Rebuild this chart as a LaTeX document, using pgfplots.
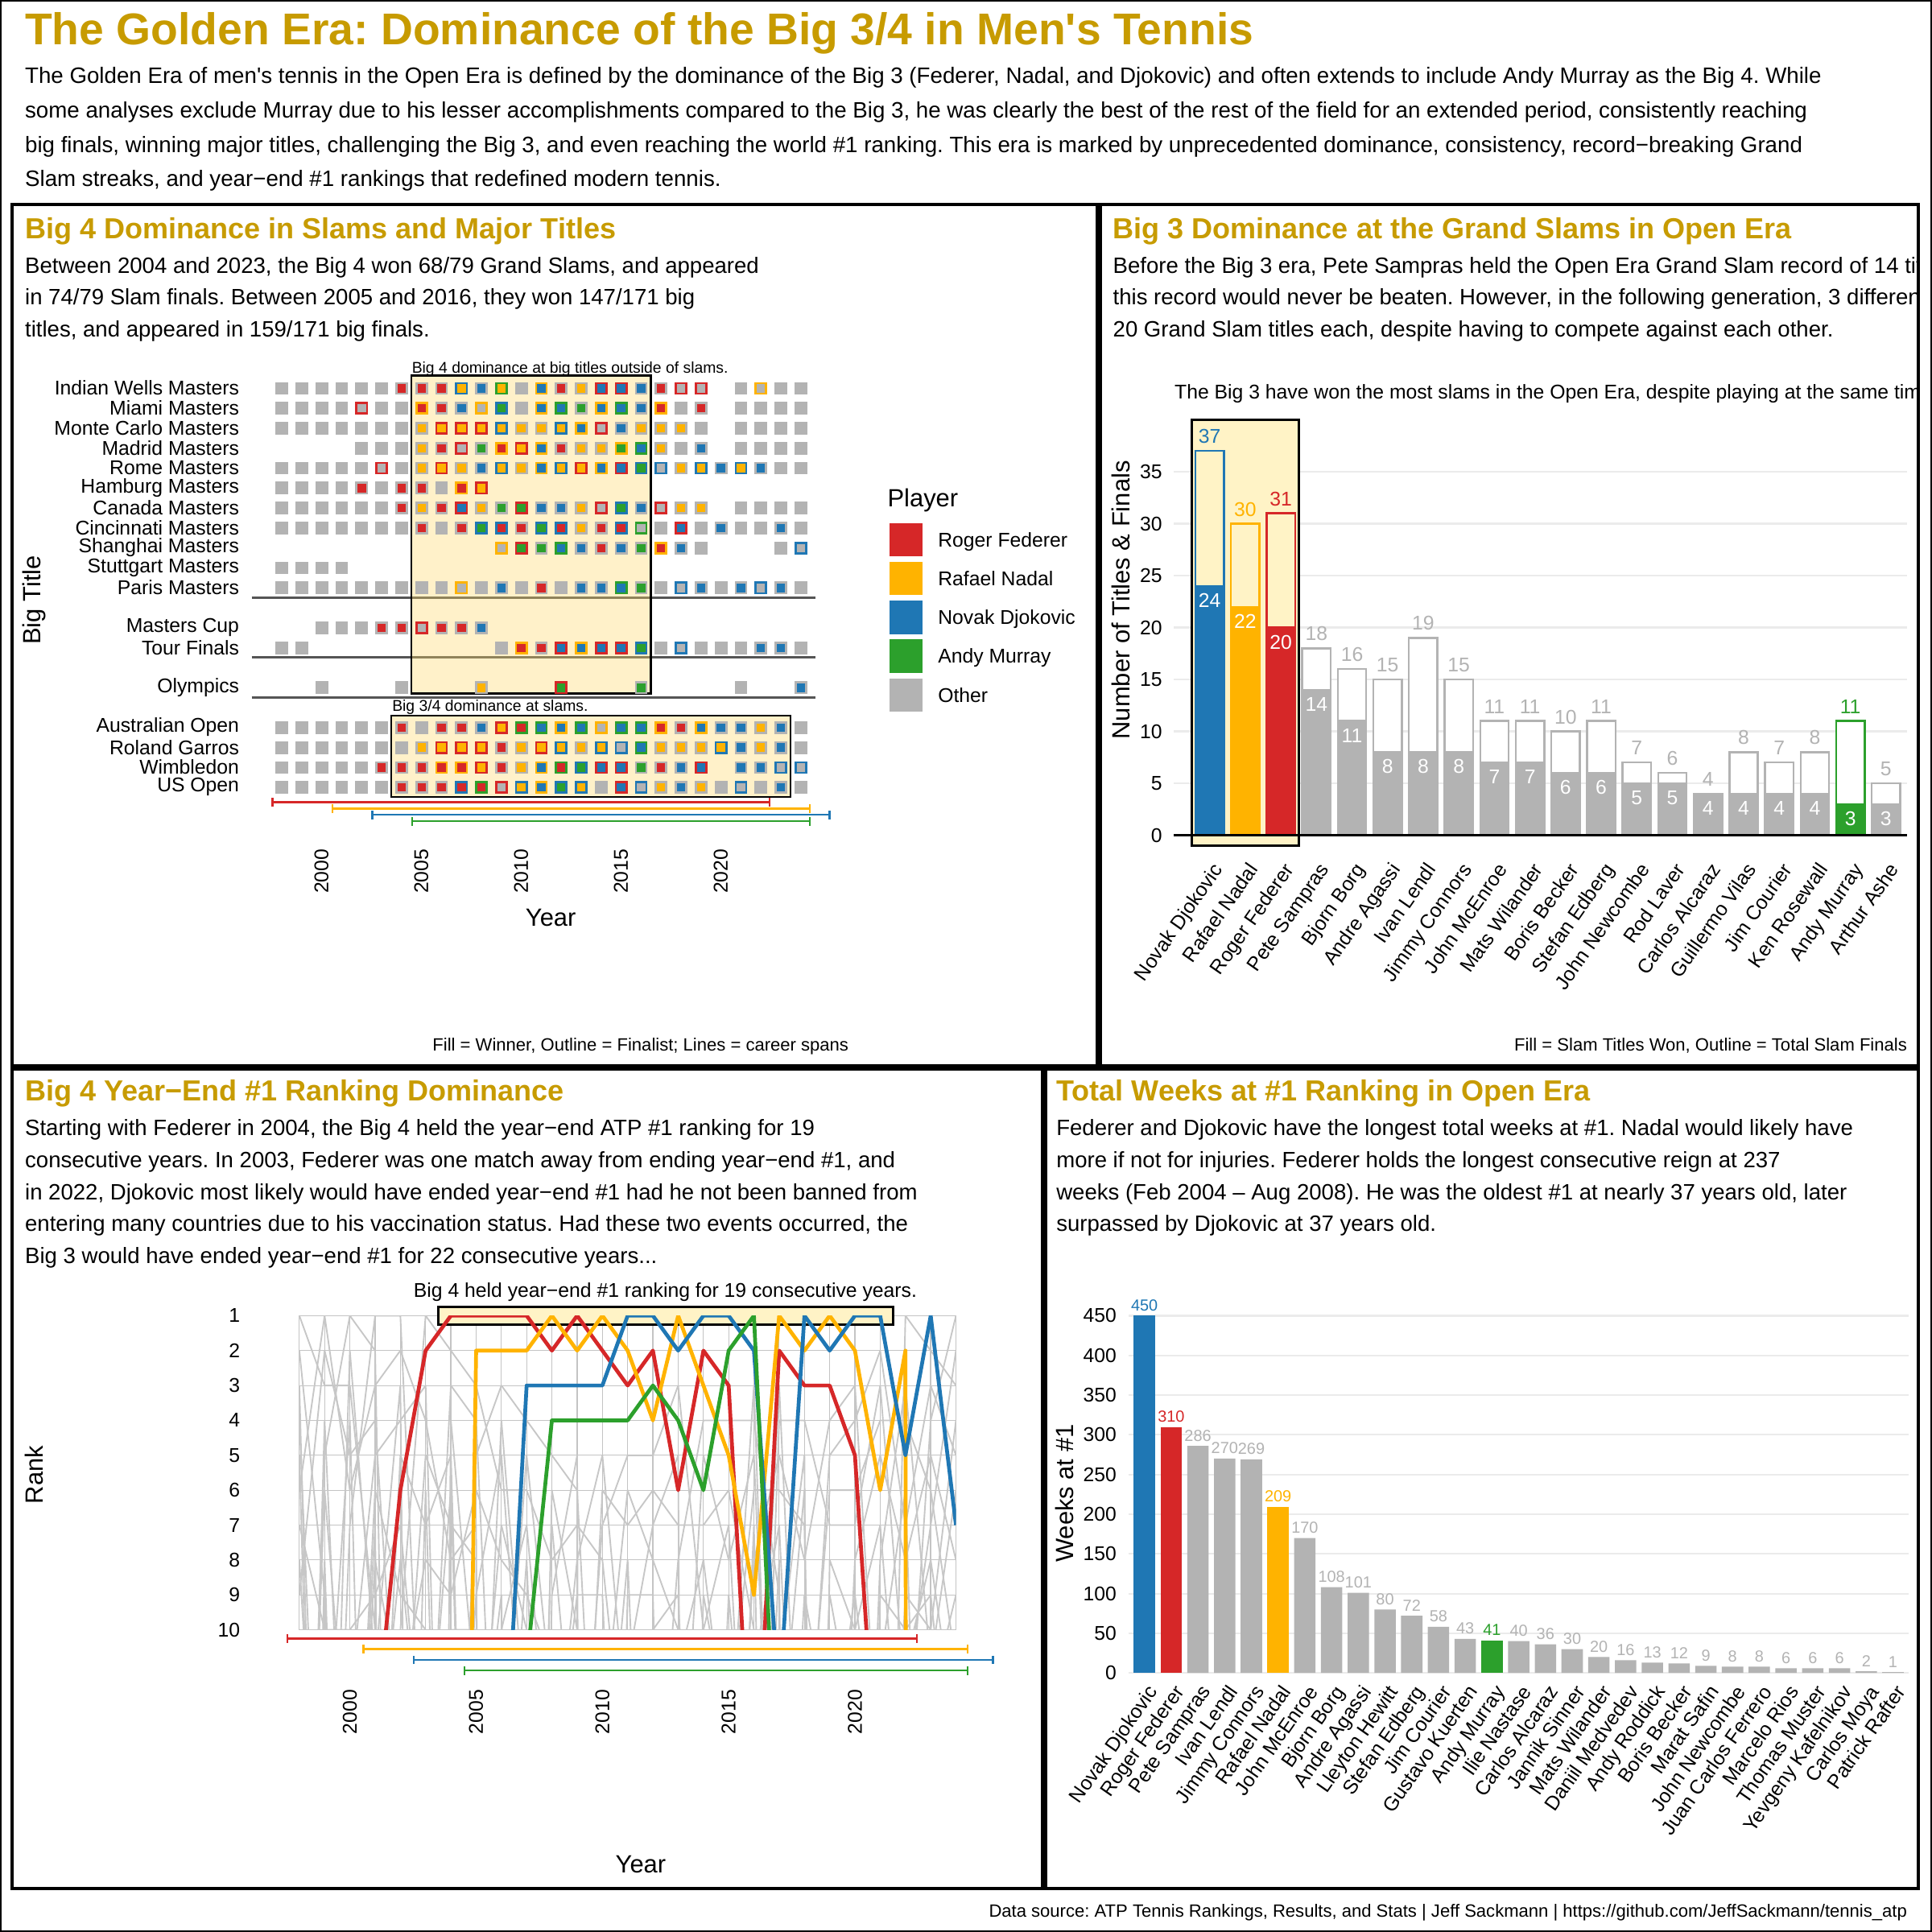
\documentclass[border=0pt]{standalone}
\usepackage{fontspec}
\setmainfont{Liberation Sans}
\usepackage{pgfplots}
\pgfplotsset{compat=1.18}
\usepackage{pgfplotstable}
\usetikzlibrary{arrows.meta}
\definecolor{cF}{HTML}{D62728}
\definecolor{cN}{HTML}{FFB300}
\definecolor{cD}{HTML}{1F77B4}
\definecolor{cM}{HTML}{2CA02C}
\definecolor{cO}{HTML}{B3B3B3}
\definecolor{gold}{HTML}{C79B00}
\definecolor{boxy}{HTML}{FFF3C6}
\definecolor{boxs}{HTML}{FFD966}
\definecolor{gridc}{HTML}{EBEBEB}
\definecolor{gridd}{HTML}{C4C4C4}
\definecolor{sepc}{HTML}{555555}
\newcommand\ft[1]{\fontsize{#1}{#1}\selectfont}
\newcommand\ap{\textquotesingle}
\frenchspacing

\pgfplotstableread[row sep=\\]{
x y w f\\
1998 0 O O\\1999 0 O O\\2000 0 O O\\2001 0 O O\\2002 0 O O\\2003 0 O O\\2004 0 F O\\2005 0 F O\\2006 0 F O\\2007 0 N D\\2008 0 D O\\2009 0 N M\\2010 0 O O\\2011 0 D N\\2012 0 F O\\2013 0 N O\\2014 0 D F\\2015 0 D F\\2016 0 D O\\2017 0 F O\\2018 0 O F\\2019 0 O F\\2021 0 O O\\2022 0 O N\\2023 0 O O\\2024 0 O O\\
1998 1 O O\\1999 1 O O\\2000 1 O O\\2001 1 O O\\2002 1 O F\\2003 1 O O\\2004 1 O O\\2005 1 F N\\2006 1 F O\\2007 1 D O\\2008 1 O N\\2009 1 M D\\2010 1 O O\\2011 1 D N\\2012 1 D M\\2013 1 M O\\2014 1 D N\\2015 1 D M\\2016 1 D O\\2017 1 F N\\2018 1 O O\\2019 1 F O\\2021 1 O O\\2022 1 O O\\2023 1 O O\\2024 1 O O\\
1998 2 O O\\1999 2 O O\\2000 2 O O\\2001 2 O O\\2002 2 O O\\2003 2 O O\\2004 2 O O\\2005 2 N O\\2006 2 N F\\2007 2 N F\\2008 2 N F\\2009 2 N D\\2010 2 N O\\2011 2 N O\\2012 2 N D\\2013 2 D N\\2014 2 O F\\2015 2 D O\\2016 2 N O\\2017 2 N O\\2018 2 N O\\2019 2 O O\\2021 2 O O\\2022 2 O O\\2023 2 O O\\2024 2 O O\\
2002 3 O O\\2003 3 O O\\2004 3 O O\\2005 3 N O\\2006 3 F O\\2007 3 O F\\2008 3 M O\\2009 3 F N\\2010 3 N F\\2011 3 D N\\2012 3 F O\\2013 3 N O\\2014 3 N O\\2015 3 M N\\2016 3 D M\\2017 3 N O\\2018 3 O O\\2019 3 D O\\2021 3 O O\\2022 3 O O\\2023 3 O O\\2024 3 O O\\
1998 4 O O\\1999 4 O O\\2000 4 O O\\2001 4 O O\\2002 4 O O\\2003 4 O F\\2004 4 O O\\2005 4 N O\\2006 4 N F\\2007 4 N O\\2008 4 D O\\2009 4 N D\\2010 4 N O\\2011 4 D N\\2012 4 N D\\2013 4 N F\\2014 4 D N\\2015 4 D F\\2016 4 M D\\2017 4 O D\\2018 4 N O\\2019 4 N D\\2020 4 D O\\2021 4 N D\\2022 4 D O\\2023 4 O O\\2024 4 O O\\
1998 5 O O\\1999 5 O O\\2000 5 O O\\2001 5 O O\\2002 5 F O\\2003 5 O O\\2004 5 F O\\2005 5 F O\\2006 5 O O\\2007 5 F N\\2008 5 N F\\
1998 6 O O\\1999 6 O O\\2000 6 O O\\2001 6 O O\\2002 6 O O\\2003 6 O O\\2004 6 F O\\2005 6 N O\\2006 6 F O\\2007 6 D F\\2008 6 N O\\2009 6 M O\\2010 6 M F\\2011 6 D O\\2012 6 D O\\2013 6 N O\\2014 6 O F\\2015 6 M D\\2016 6 D O\\2017 6 O F\\2018 6 N O\\2019 6 N O\\2021 6 O O\\2022 6 O O\\2023 6 O O\\2024 6 O O\\
1998 7 O O\\1999 7 O O\\2000 7 O O\\2001 7 O O\\2002 7 O O\\2003 7 O O\\2004 7 O O\\2005 7 F O\\2006 7 O O\\2007 7 F O\\2008 7 M D\\2009 7 F D\\2010 7 F O\\2011 7 M D\\2012 7 F D\\2013 7 N O\\2014 7 F O\\2015 7 F D\\2016 7 O M\\2017 7 O O\\2018 7 D F\\2019 7 O O\\2020 7 D O\\2021 7 O O\\2022 7 O O\\2023 7 D O\\2024 7 O O\\
2009 8 O N\\2010 8 M F\\2011 8 M O\\2012 8 D M\\2013 8 D O\\2014 8 F O\\2015 8 D O\\2016 8 M O\\2017 8 F N\\2018 8 D O\\2019 8 O O\\2023 8 O O\\2024 8 O D\\
1998 9 O O\\1999 9 O O\\2000 9 O O\\2001 9 O O\\
1998 10 O O\\1999 10 O O\\2000 10 O O\\2001 10 O O\\2002 10 O O\\2003 10 O O\\2004 10 O O\\2005 10 O O\\2006 10 O O\\2007 10 O N\\2008 10 O O\\2009 10 D O\\2010 10 O O\\2011 10 F O\\2012 10 O O\\2013 10 D O\\2014 10 D O\\2015 10 D M\\2016 10 M O\\2017 10 O O\\2018 10 O D\\2019 10 D O\\2020 10 O O\\2021 10 D O\\2022 10 O D\\2023 10 D O\\2024 10 O O\\
2000 12 O O\\2001 12 O O\\2002 12 O O\\2003 12 F O\\2004 12 F O\\2005 12 O F\\2006 12 F O\\2007 12 F O\\2008 12 D O\\
1998 13 O O\\1999 13 O O\\2009 13 O O\\2010 13 F N\\2011 13 F O\\2012 13 D F\\2013 13 D N\\2014 13 D F\\2015 13 D F\\2016 13 M D\\2017 13 O O\\2018 13 O D\\2019 13 O O\\2020 13 O O\\2021 13 O O\\2022 13 D O\\2023 13 D O\\2024 13 O O\\
2000 15 O O\\2004 15 O O\\2008 15 N O\\2012 15 M F\\2016 15 M O\\2021 15 O O\\2024 15 D O\\
1998 17 O O\\1999 17 O O\\2000 17 O O\\2001 17 O O\\2002 17 O O\\2003 17 O O\\2004 17 F O\\2005 17 O O\\2006 17 F O\\2007 17 F O\\2008 17 D O\\2009 17 N F\\2010 17 F M\\2011 17 D M\\2012 17 D N\\2013 17 D M\\2014 17 O N\\2015 17 D M\\2016 17 D M\\2017 17 F N\\2018 17 F O\\2019 17 D N\\2020 17 D O\\2021 17 D O\\2022 17 N O\\2023 17 D O\\2024 17 O O\\
1998 18 O O\\1999 18 O O\\2000 18 O O\\2001 18 O O\\2002 18 O O\\2003 18 O O\\2004 18 O O\\2005 18 N O\\2006 18 N F\\2007 18 N F\\2008 18 N F\\2009 18 F O\\2010 18 N O\\2011 18 N F\\2012 18 N D\\2013 18 N O\\2014 18 N D\\2015 18 O D\\2016 18 D M\\2017 18 N O\\2018 18 N O\\2019 18 N O\\2020 18 N D\\2021 18 D O\\2022 18 N O\\2023 18 D O\\2024 18 O O\\
1998 19 O O\\1999 19 O O\\2000 19 O O\\2001 19 O O\\2002 19 O O\\2003 19 F O\\2004 19 F O\\2005 19 F O\\2006 19 F N\\2007 19 F N\\2008 19 N F\\2009 19 F O\\2010 19 N O\\2011 19 D N\\2012 19 F M\\2013 19 M D\\2014 19 D F\\2015 19 D F\\2016 19 M O\\2017 19 F O\\2018 19 D O\\2019 19 D F\\2021 19 D O\\2022 19 D O\\2023 19 O D\\2024 19 O D\\
1998 20 O O\\1999 20 O O\\2000 20 O O\\2001 20 O O\\2002 20 O O\\2003 20 O O\\2004 20 F O\\2005 20 F O\\2006 20 F O\\2007 20 F D\\2008 20 F M\\2009 20 O F\\2010 20 N D\\2011 20 D N\\2012 20 M D\\2013 20 N D\\2014 20 O O\\2015 20 D F\\2016 20 O D\\2017 20 N O\\2018 20 D O\\2019 20 N O\\2020 20 O O\\2021 20 O D\\2022 20 O O\\2023 20 D O\\2024 20 O O\\
}\tiles

\pgfplotsset{
  base/.style={scale only axis, anchor=north west, axis line style={draw=none},
    major tick length=0pt, minor tick length=0pt, tick label style={font=\ft{9.2}},
    /pgf/number format/assume math mode=true, /pgf/number format/1000 sep={},
    scaled ticks=false, clip=false},
  gl/.style={color=black!22, line width=0.7pt, line join=round},
  bl/.style={line width=1.75pt, line join=round},
  tiles/.style={scatter, only marks, scatter src=explicit symbolic,
    scatter/classes={F={mark=square*,cF},N={mark=square*,cN},D={mark=square*,cD},M={mark=square*,cM},O={mark=square*,cO}}}
}

\begin{document}
\begin{tikzpicture}[x=0.02cm,y=0.02cm]
\useasboundingbox (0,0) rectangle (1568,-1568);
\fill[white] (0,0) rectangle (1568,-1568);

% ---------------- header ----------------
\node[anchor=base west, inner sep=0, font=\ft{20.55}\bfseries, text=gold] at (20,-36) {The Golden Era: Dominance of the Big 3/4 in Men\ap s Tennis};
\begin{scope}[every node/.style={anchor=base west, inner sep=0, font=\ft{10.3}}]
\node at (20,-67.5) {The Golden Era of men\ap s tennis in the Open Era is defined by the dominance of the Big 3 (Federer, Nadal, and Djokovic) and often extends to include Andy Murray as the Big 4. While};
\node at (20,-95.5) {some analyses exclude Murray due to his lesser accomplishments compared to the Big 3, he was clearly the best of the rest of the field for an extended period, consistently reaching};
\node at (20,-123.5) {big finals, winning major titles, challenging the Big 3, and even reaching the world \#1 ranking. This era is marked by unprecedented dominance, consistency, record−breaking Grand};
\node at (20,-151.5) {Slam streaks, and year−end \#1 rankings that redefined modern tennis.};
\end{scope}

% ---------------- panel 1 ----------------
\node[anchor=base west, inner sep=0, font=\ft{13.4}\bfseries, text=gold] at (20,-193.5) {Big 4 Dominance in Slams and Major Titles};
\begin{scope}[every node/.style={anchor=base west, inner sep=0, font=\ft{10.25}}]
\node at (20,-221.5) {Between 2004 and 2023, the Big 4 won 68/79 Grand Slams, and appeared};
\node at (20,-247.5) {in 74/79 Slam finals. Between 2005 and 2016, they won 147/171 big};
\node at (20,-273.5) {titles, and appeared in 159/171 big finals.};
\end{scope}

\begin{axis}[base, at={(4.086cm,-5.9112cm)}, width=9.153cm, height=7.5816cm,
  xmin=1996.5, xmax=2024.75, ymin=-1.2, ymax=22.2, y dir=reverse,
  xtick={2000,2005,...,2020}, xticklabel style={rotate=90, anchor=east}, xticklabel shift=0.17cm,
  ytick={0,1,2,3,4,5,6,7,8,9,10,12,13,15,17,18,19,20},
  yticklabels={Indian Wells Masters,Miami Masters,Monte Carlo Masters,Madrid Masters,Rome Masters,Hamburg Masters,Canada Masters,Cincinnati Masters,Shanghai Masters,Stuttgart Masters,Paris Masters,Masters Cup,Tour Finals,Olympics,Australian Open,Roland Garros,Wimbledon,US Open},
  yticklabel shift=0.08cm]
\addplot[sepc, line width=1.1pt] coordinates {(1996.5,10.5) (2024.75,10.5)};
\addplot[sepc, line width=1.1pt] coordinates {(1996.5,13.5) (2024.75,13.5)};
\addplot[sepc, line width=1.1pt] coordinates {(1996.5,15.5) (2024.75,15.5)};
\addplot[cF, line width=0.85pt, {Bar[width=4pt]}-{Bar[width=4pt]}] coordinates {(1997.5,20.75) (2022.5,20.75)};
\addplot[cN, line width=0.85pt, {Bar[width=4pt]}-{Bar[width=4pt]}] coordinates {(2000.5,21.07) (2024.5,21.07)};
\addplot[cD, line width=0.85pt, {Bar[width=4pt]}-{Bar[width=4pt]}] coordinates {(2002.5,21.39) (2025.5,21.39)};
\addplot[cM, line width=0.85pt, {Bar[width=4pt]}-{Bar[width=4pt]}] coordinates {(2004.5,21.71) (2024.5,21.71)};
\fill[boxs, fill opacity=0.35] (axis cs:2004.5,-0.62) rectangle (axis cs:2016.5,15.3);
\draw[black, line width=0.9pt] (axis cs:2004.5,-0.62) rectangle (axis cs:2016.5,15.3);
\fill[boxs, fill opacity=0.35] (axis cs:2003.5,16.42) rectangle (axis cs:2023.5,20.5);
\draw[black, line width=0.9pt] (axis cs:2003.5,16.42) rectangle (axis cs:2023.5,20.5);
\addplot[tiles, mark size=2.75pt, mark options={line width=0.1pt}] table[x=x, y=y, meta=f] {\tiles};
\addplot[tiles, mark size=1.75pt, mark options={line width=0.1pt}] table[x=x, y=y, meta=w] {\tiles};
\end{axis}
\node[anchor=base west, inner sep=0, font=\ft{7.2}] at (334,-302.5) {Big 4 dominance at big titles outside of slams.};
\node[anchor=base west, inner sep=0, font=\ft{7.2}] at (318,-577.5) {Big 3/4 dominance at slams.};
\node[rotate=90, font=\ft{11.5}] at (28,-487) {Big Title};
\node[font=\ft{11.5}] at (447,-745) {Year};
% legend
\node[anchor=base west, inner sep=0, font=\ft{11.5}] at (720,-411) {Player};
\fill[cF] (722,-424.5) rectangle (749,-451.5);
\fill[cN] (722,-456) rectangle (749,-483);
\fill[cD] (722,-487.5) rectangle (749,-514.5);
\fill[cM] (722,-519) rectangle (749,-546);
\fill[cO] (722,-550.5) rectangle (749,-577.5);
\begin{scope}[every node/.style={anchor=base west, inner sep=0, font=\ft{9.2}}]
\node at (761,-443.8) {Roger Federer};
\node at (761,-475.3) {Rafael Nadal};
\node at (761,-506.8) {Novak Djokovic};
\node at (761,-538.3) {Andy Murray};
\node at (761,-569.8) {Other};
\end{scope}
\node[anchor=base east, inner sep=0, font=\ft{8.2}] at (689,-853) {Fill = Winner, Outline = Finalist; Lines = career spans};

% ---------------- panel 2 ----------------
\begin{scope}
\clip (894,-167) rectangle (1555.5,-863);
\node[anchor=base west, inner sep=0, font=\ft{13.4}\bfseries, text=gold] at (903,-193.5) {Big 3 Dominance at the Grand Slams in Open Era};
\begin{scope}[every node/.style={anchor=base west, inner sep=0, font=\ft{10.25}}]
\node at (903,-221.5) {Before the Big 3 era, Pete Sampras held the Open Era Grand Slam record of 14 titles, and many believed};
\node at (903,-247.5) {this record would never be beaten. However, in the following generation, 3 different players won over};
\node at (903,-273.5) {20 Grand Slam titles each, despite having to compete against each other.};
\end{scope}
\node[anchor=base west, inner sep=0, font=\ft{9.2}] at (953,-323.5) {The Big 3 have won the most slams in the Open Era, despite playing at the same time.};
\end{scope}

\begin{axis}[base, at={(19.06cm,-6.732cm)}, width=11.906cm, height=7.0812cm,
  xmin=-1, xmax=19.6, ymin=-1.5, ymax=40.5,
  ytick={0,5,...,35}, ymajorgrids, major grid style={gridc, line width=0.8pt},
  yticklabel shift=0.07cm,
  xtick={0,...,19},
  xticklabels={Novak Djokovic,Rafael Nadal,Roger Federer,Pete Sampras,Bjorn Borg,Andre Agassi,Ivan Lendl,Jimmy Connors,John McEnroe,Mats Wilander,Boris Becker,Stefan Edberg,John Newcombe,Rod Laver,Carlos Alcaraz,Guillermo Vilas,Jim Courier,Ken Rosewall,Andy Murray,Arthur Ashe},
  xticklabel style={rotate=55, anchor=north east}]
\fill[boxy] (axis cs:-0.5,-1) rectangle (axis cs:2.5,40);
\draw[black, line width=1.1pt] (axis cs:-0.5,-1) rectangle (axis cs:2.5,40);
% totals (outline)
\addplot[ybar, bar width=0.8, bar shift=0pt, draw=cD, fill=none, line width=0.9pt, nodes near coords, every node near coord/.append style={anchor=center, yshift=0.236cm, text=cD, font=\ft{9.2}}] coordinates {(0,37)};
\addplot[ybar, bar width=0.8, bar shift=0pt, draw=cN, fill=none, line width=0.9pt, nodes near coords, every node near coord/.append style={anchor=center, yshift=0.236cm, text=cN, font=\ft{9.2}}] coordinates {(1,30)};
\addplot[ybar, bar width=0.8, bar shift=0pt, draw=cF, fill=none, line width=0.9pt, nodes near coords, every node near coord/.append style={anchor=center, yshift=0.236cm, text=cF, font=\ft{9.2}}] coordinates {(2,31)};
\addplot[ybar, bar width=0.8, bar shift=0pt, draw=cO, fill=white, line width=0.9pt, nodes near coords, every node near coord/.append style={anchor=center, yshift=0.236cm, text=cO, font=\ft{9.2}}] coordinates {(3,18) (4,16) (5,15) (6,19) (7,15) (8,11) (9,11) (10,10) (11,11) (12,7) (13,6) (14,4) (15,8) (16,7) (17,8) (19,5)};
\addplot[ybar, bar width=0.8, bar shift=0pt, draw=cM, fill=white, line width=0.9pt, nodes near coords, every node near coord/.append style={anchor=center, yshift=0.236cm, text=cM, font=\ft{9.2}}] coordinates {(18,11)};
% titles (fill)
\addplot[ybar, bar width=0.8, bar shift=0pt, draw=cD, fill=cD, line width=0.9pt, nodes near coords, every node near coord/.append style={anchor=center, yshift=-0.236cm, text=white, font=\ft{9.2}}] coordinates {(0,24)};
\addplot[ybar, bar width=0.8, bar shift=0pt, draw=cN, fill=cN, line width=0.9pt, nodes near coords, every node near coord/.append style={anchor=center, yshift=-0.236cm, text=white, font=\ft{9.2}}] coordinates {(1,22)};
\addplot[ybar, bar width=0.8, bar shift=0pt, draw=cF, fill=cF, line width=0.9pt, nodes near coords, every node near coord/.append style={anchor=center, yshift=-0.236cm, text=white, font=\ft{9.2}}] coordinates {(2,20)};
\addplot[ybar, bar width=0.8, bar shift=0pt, draw=cO, fill=cO, line width=0.9pt, nodes near coords, every node near coord/.append style={anchor=center, yshift=-0.236cm, text=white, font=\ft{9.2}}] coordinates {(3,14) (4,11) (5,8) (6,8) (7,8) (8,7) (9,7) (10,6) (11,6) (12,5) (13,5) (14,4) (15,4) (16,4) (17,4) (19,3)};
\addplot[ybar, bar width=0.8, bar shift=0pt, draw=cM, fill=cM, line width=0.9pt, nodes near coords, every node near coord/.append style={anchor=center, yshift=-0.236cm, text=white, font=\ft{9.2}}] coordinates {(18,3)};
\draw[black, line width=1.1pt] (axis cs:-1,0) -- (axis cs:19.6,0);
\end{axis}
\node[rotate=90, font=\ft{11.5}] at (910,-487) {Number of Titles \& Finals};
\node[anchor=base east, inner sep=0, font=\ft{8.2}] at (1548,-853) {Fill = Slam Titles Won, Outline = Total Slam Finals};

% ---------------- panel 3 ----------------
\node[anchor=base west, inner sep=0, font=\ft{13.4}\bfseries, text=gold] at (20,-893.5) {Big 4 Year−End \#1 Ranking Dominance};
\begin{scope}[every node/.style={anchor=base west, inner sep=0, font=\ft{10.25}}]
\node at (20,-921.5) {Starting with Federer in 2004, the Big 4 held the year−end ATP \#1 ranking for 19};
\node at (20,-947.5) {consecutive years. In 2003, Federer was one match away from ending year−end \#1, and};
\node at (20,-973.5) {in 2022, Djokovic most likely would have ended year−end \#1 had he not been banned from};
\node at (20,-999.5) {entering many countries due to his vaccination status. Had these two events occurred, the};
\node at (20,-1025.5) {Big 3 would have ended year−end \#1 for 22 consecutive years...};
\end{scope}
\node[anchor=base, inner sep=0, font=\ft{9.2}] at (540,-1053) {Big 4 held year−end \#1 ranking for 19 consecutive years.};

\begin{axis}[base, at={(4.86cm,-21.36cm)}, width=10.66cm, height=5.1cm,
  xmin=1998, xmax=2024, ymin=1, ymax=10, y dir=reverse,
  xtick={2000,2005,...,2020}, minor xtick={1998,...,2024}, ytick={1,...,10},
  grid=both, major grid style={gridd, line width=0.45pt}, minor grid style={gridd, line width=0.45pt},
  xticklabel style={rotate=90, anchor=east}, xticklabel shift=0.85cm, yticklabel shift=0.84cm]
\fill[boxy] (axis cs:2003.5,0.75) rectangle (axis cs:2021.5,1.25);
\draw[black, line width=1.1pt] (axis cs:2003.5,0.75) rectangle (axis cs:2021.5,1.25);
\addplot[cF, line width=0.85pt, {Bar[width=4pt]}-{Bar[width=4pt]}] coordinates {(1997.5,10.25) (2022.5,10.25)};
\addplot[cN, line width=0.85pt, {Bar[width=4pt]}-{Bar[width=4pt]}] coordinates {(2000.5,10.55) (2024.5,10.55)};
\addplot[cD, line width=0.85pt, {Bar[width=4pt]}-{Bar[width=4pt]}] coordinates {(2002.5,10.86) (2025.5,10.86)};
\addplot[cM, line width=0.85pt, {Bar[width=4pt]}-{Bar[width=4pt]}] coordinates {(2004.5,11.17) (2024.5,11.17)};
\end{axis}
\begin{axis}[base, hide axis, clip=true, no markers, at={(4.86cm,-21.36cm)}, width=10.66cm, height=5.1cm,
  xmin=1998, xmax=2024, ymin=1, ymax=10, y dir=reverse]
\addplot[gl] coordinates {(1998,1) (1999,3) (2000,3) (2001,10) (2002,13)};
\addplot[gl] coordinates {(1998,6) (1999,1) (2000,6) (2001,3) (2002,2) (2003,4) (2004,8) (2005,7) (2006,150)};
\addplot[gl] coordinates {(1998,2) (1999,9) (2000,30) (2001,22)};
\addplot[gl] coordinates {(1998,3) (1999,30) (2000,12) (2001,20)};
\addplot[gl] coordinates {(1998,4) (1999,21) (2000,20) (2001,7) (2002,80)};
\addplot[gl] coordinates {(1998,5) (1999,30) (2000,40) (2001,20) (2002,5) (2003,7) (2004,5) (2005,30)};
\addplot[gl] coordinates {(1998,7) (1999,10) (2000,10) (2001,9) (2002,7) (2003,15) (2004,6) (2005,30)};
\addplot[gl] coordinates {(1998,8) (1999,20)};
\addplot[gl] coordinates {(1998,9) (1999,2) (2000,5) (2001,4) (2002,15)};
\addplot[gl] coordinates {(1998,10) (1999,20)};
\addplot[gl] coordinates {(1998,30) (1999,4) (2000,20) (2001,40)};
\addplot[gl] coordinates {(1998,25) (1999,5) (2000,1) (2001,2) (2002,40)};
\addplot[gl] coordinates {(1998,30) (1999,9) (2000,25)};
\addplot[gl] coordinates {(1998,25) (1999,6) (2000,15)};
\addplot[gl] coordinates {(1998,40) (1999,8) (2000,30)};
\addplot[gl] coordinates {(1999,25) (2000,2) (2001,11) (2002,3) (2003,80) (2004,4) (2005,12)};
\addplot[gl] coordinates {(1999,25) (2000,7) (2001,1) (2002,1) (2003,17) (2004,3) (2005,4) (2006,20)};
\addplot[gl] coordinates {(1999,15) (2000,4) (2001,30)};
\addplot[gl] coordinates {(1999,40) (2000,12) (2001,5) (2002,4) (2003,3) (2004,30)};
\addplot[gl] coordinates {(2000,20) (2001,6) (2002,9) (2003,10) (2004,12)};
\addplot[gl] coordinates {(2000,20) (2001,8) (2002,12)};
\addplot[gl] coordinates {(2001,15) (2002,8) (2003,15)};
\addplot[gl] coordinates {(2001,14) (2002,10) (2003,1) (2004,2) (2005,3) (2006,6) (2007,6) (2008,8) (2009,7) (2010,8) (2011,15)};
\addplot[gl] coordinates {(2002,15) (2003,5) (2004,7) (2005,8) (2006,100)};
\addplot[gl] coordinates {(2002,30) (2003,6) (2004,30)};
\addplot[gl] coordinates {(2002,12) (2003,8) (2004,9) (2005,6) (2006,8) (2007,9) (2008,11) (2009,60)};
\addplot[gl] coordinates {(2003,30) (2004,10) (2005,10) (2006,30)};
\addplot[gl] coordinates {(2004,25) (2005,5) (2006,3) (2007,4) (2008,5) (2009,6) (2010,20)};
\addplot[gl] coordinates {(2004,20) (2005,9) (2006,5) (2007,15)};
\addplot[gl] coordinates {(2005,20) (2006,4) (2007,13) (2008,10) (2009,20)};
\addplot[gl] coordinates {(2005,15) (2006,7) (2007,10) (2008,20)};
\addplot[gl] coordinates {(2005,15) (2006,9) (2007,60)};
\addplot[gl] coordinates {(2005,15) (2006,10) (2007,7) (2008,15)};
\addplot[gl] coordinates {(2006,15) (2007,5) (2008,12) (2009,17) (2010,7) (2011,5) (2012,5) (2013,3) (2014,10) (2015,7) (2016,20)};
\addplot[gl] coordinates {(2006,18) (2007,8) (2008,25) (2009,52) (2010,30) (2011,15) (2012,10) (2013,9) (2014,25) (2015,9) (2016,17)};
\addplot[gl] coordinates {(2007,40) (2008,6) (2009,10) (2010,13) (2011,6) (2012,8) (2013,10) (2014,12) (2015,10) (2016,12) (2017,15)};
\addplot[gl] coordinates {(2007,30) (2008,7) (2009,15)};
\addplot[gl] coordinates {(2007,45) (2008,9) (2009,5) (2010,250) (2011,11) (2012,7) (2013,5) (2014,140) (2015,500) (2016,38) (2017,11) (2018,5) (2019,120)};
\addplot[gl] coordinates {(2008,15) (2009,8) (2010,5) (2011,13)};
\addplot[gl] coordinates {(2008,15) (2009,9) (2010,9) (2011,25)};
\addplot[gl] coordinates {(2009,20) (2010,6) (2011,7) (2012,6) (2013,7) (2014,7) (2015,6) (2016,10) (2017,20)};
\addplot[gl] coordinates {(2009,25) (2010,10) (2011,35)};
\addplot[gl] coordinates {(2010,16) (2011,8) (2012,25)};
\addplot[gl] coordinates {(2010,35) (2011,9) (2012,9) (2013,36)};
\addplot[gl] coordinates {(2010,15) (2011,10) (2012,11)};
\addplot[gl] coordinates {(2012,17) (2013,8) (2014,4) (2015,4) (2016,4) (2017,9) (2018,60)};
\addplot[gl] coordinates {(2013,17) (2014,5) (2015,8) (2016,5) (2017,22) (2018,9) (2019,13)};
\addplot[gl] coordinates {(2013,11) (2014,8) (2015,14) (2016,3) (2017,24)};
\addplot[gl] coordinates {(2013,37) (2014,9) (2015,13) (2016,6) (2017,6) (2018,7) (2019,39)};
\addplot[gl] coordinates {(2015,24) (2016,7) (2017,40) (2018,30) (2019,10) (2020,11) (2021,19)};
\addplot[gl] coordinates {(2015,20) (2016,8) (2017,5) (2018,8) (2019,4) (2020,3) (2021,15)};
\addplot[gl] coordinates {(2013,23) (2014,11) (2015,28) (2016,17) (2017,3) (2018,19) (2019,20) (2020,18) (2021,28) (2022,28) (2023,14) (2024,10)};
\addplot[gl] coordinates {(2016,24) (2017,4) (2018,4) (2019,7) (2020,7) (2021,3) (2022,12) (2023,7) (2024,2)};
\addplot[gl] coordinates {(2016,11) (2017,7) (2018,22)};
\addplot[gl] coordinates {(2016,23) (2017,8) (2018,100)};
\addplot[gl] coordinates {(2016,30) (2017,10) (2018,23)};
\addplot[gl] coordinates {(2017,14) (2018,6) (2019,90)};
\addplot[gl] coordinates {(2017,17) (2018,10) (2019,19)};
\addplot[gl] coordinates {(2018,16) (2019,5) (2020,4) (2021,2) (2022,7) (2023,3) (2024,5)};
\addplot[gl] coordinates {(2018,15) (2019,6) (2020,6) (2021,4) (2022,4) (2023,6) (2024,11)};
\addplot[gl] coordinates {(2018,54) (2019,8) (2020,10) (2021,7) (2022,16)};
\addplot[gl] coordinates {(2018,24) (2019,9) (2020,13)};
\addplot[gl] coordinates {(2019,23) (2020,8) (2021,5) (2022,8) (2023,5) (2024,8)};
\addplot[gl] coordinates {(2019,14) (2020,9) (2021,15)};
\addplot[gl] coordinates {(2020,27) (2021,8) (2022,3) (2023,11) (2024,6)};
\addplot[gl] coordinates {(2020,35) (2021,9) (2022,10) (2023,9) (2024,16)};
\addplot[gl] coordinates {(2020,37) (2021,10) (2022,15) (2023,4) (2024,1)};
\addplot[gl] coordinates {(2020,141) (2021,32) (2022,1) (2023,2) (2024,3)};
\addplot[gl] coordinates {(2021,11) (2022,6) (2023,29)};
\addplot[gl] coordinates {(2021,23) (2022,9) (2023,10) (2024,4)};
\addplot[gl] coordinates {(2022,11) (2023,8) (2024,13)};
\addplot[gl] coordinates {(2022,24) (2023,12) (2024,9)};
% Big 4
\addplot[bl, cF] coordinates {(1998,301) (1999,64) (2000,29) (2001,13) (2002,6) (2003,2) (2004,1) (2005,1) (2006,1) (2007,1) (2008,2) (2009,1) (2010,2) (2011,3) (2012,2) (2013,6) (2014,2) (2015,3) (2016,16) (2017,2) (2018,3) (2019,3) (2020,5) (2021,16)};
\addplot[bl, cN] coordinates {(2002,200) (2003,49) (2004,51) (2005,2) (2006,2) (2007,2) (2008,1) (2009,2) (2010,1) (2011,2) (2012,4) (2013,1) (2014,3) (2015,5) (2016,9) (2017,1) (2018,2) (2019,1) (2020,2) (2021,6) (2022,2) (2023,672) (2024,154)};
\addplot[bl, cD] coordinates {(2003,679) (2004,186) (2005,83) (2006,16) (2007,3) (2008,3) (2009,3) (2010,3) (2011,1) (2012,1) (2013,2) (2014,1) (2015,1) (2016,2) (2017,12) (2018,1) (2019,2) (2020,1) (2021,1) (2022,5) (2023,1) (2024,7)};
\addplot[bl, cM] coordinates {(2005,64) (2006,17) (2007,11) (2008,4) (2009,4) (2010,4) (2011,4) (2012,3) (2013,4) (2014,6) (2015,2) (2016,1) (2017,16) (2018,240) (2019,125) (2020,122) (2021,134) (2022,49) (2023,42)};
\end{axis}
\node[rotate=90, font=\ft{11.5}] at (28,-1197) {Rank};
\node[font=\ft{11.5}] at (520,-1513) {Year};

% ---------------- panel 4 ----------------
\node[anchor=base west, inner sep=0, font=\ft{13.4}\bfseries, text=gold] at (857,-893.5) {Total Weeks at \#1 Ranking in Open Era};
\begin{scope}[every node/.style={anchor=base west, inner sep=0, font=\ft{10.25}}]
\node at (857,-921.5) {Federer and Djokovic have the longest total weeks at \#1. Nadal would likely have};
\node at (857,-947.5) {more if not for injuries. Federer holds the longest consecutive reign at 237};
\node at (857,-973.5) {weeks (Feb 2004 – Aug 2008). He was the oldest \#1 at nearly 37 years old, later};
\node at (857,-999.5) {surpassed by Djokovic at 37 years old.};
\end{scope}

\begin{axis}[base, at={(18.3196cm,-21.232cm)}, width=12.6728cm, height=5.928cm,
  xmin=-0.6, xmax=28.6, ymin=0, ymax=460,
  ytick={0,50,...,450}, ymajorgrids, major grid style={gridc, line width=0.8pt},
  yticklabel shift=0.07cm,
  xtick={0,...,28},
  xticklabels={Novak Djokovic,Roger Federer,Pete Sampras,Ivan Lendl,Jimmy Connors,Rafael Nadal,John McEnroe,Bjorn Borg,Andre Agassi,Lleyton Hewitt,Stefan Edberg,Jim Courier,Gustavo Kuerten,Andy Murray,Ilie Nastase,Carlos Alcaraz,Jannik Sinner,Mats Wilander,Daniil Medvedev,Andy Roddick,Boris Becker,Marat Safin,John Newcombe,Juan Carlos Ferrero,Marcelo Rios,Thomas Muster,Yevgeny Kafelnikov,Carlos Moya,Patrick Rafter},
  xticklabel style={rotate=55, anchor=north east}]
\addplot[ybar, bar width=0.8, bar shift=0pt, fill=cD, draw=none, nodes near coords, every node near coord/.append style={anchor=center, yshift=0.17cm, text=cD, font=\ft{7.4}}] coordinates {(0,450)};
\addplot[ybar, bar width=0.8, bar shift=0pt, fill=cF, draw=none, nodes near coords, every node near coord/.append style={anchor=center, yshift=0.17cm, text=cF, font=\ft{7.4}}] coordinates {(1,310)};
\addplot[ybar, bar width=0.8, bar shift=0pt, fill=cN, draw=none, nodes near coords, every node near coord/.append style={anchor=center, yshift=0.17cm, text=cN, font=\ft{7.4}}] coordinates {(5,209)};
\addplot[ybar, bar width=0.8, bar shift=0pt, fill=cM, draw=none, nodes near coords, every node near coord/.append style={anchor=center, yshift=0.17cm, text=cM, font=\ft{7.4}}] coordinates {(13,41)};
\addplot[ybar, bar width=0.8, bar shift=0pt, fill=cO, draw=none, nodes near coords, every node near coord/.append style={anchor=center, yshift=0.17cm, text=cO, font=\ft{7.4}}] coordinates {(2,286) (3,270) (4,269) (6,170) (7,108) (8,101) (9,80) (10,72) (11,58) (12,43) (14,40) (15,36) (16,30) (17,20) (18,16) (19,13) (20,12) (21,9) (22,8) (23,8) (24,6) (25,6) (26,6) (27,2) (28,1)};
\end{axis}
\node[rotate=90, font=\ft{11.5}] at (864,-1212) {Weeks at \#1};

% ---------------- frames & footer ----------------
\draw[line width=1.5pt] (10,-166) rectangle (890.5,-865);
\draw[line width=1.5pt] (893,-166) rectangle (1557,-865);
\draw[line width=1.5pt] (10,-867.5) rectangle (846,-1533);
\draw[line width=1.5pt] (848.5,-867.5) rectangle (1557,-1533);
\node[anchor=base east, inner sep=0, font=\ft{8.2}] at (1548,-1556) {Data source: ATP Tennis Rankings, Results, and Stats | Jeff Sackmann | https://github.com/JeffSackmann/tennis\_atp};
\draw[line width=0.8pt] (0.7,-0.7) rectangle (1567.3,-1567.3);
\end{tikzpicture}
\end{document}
